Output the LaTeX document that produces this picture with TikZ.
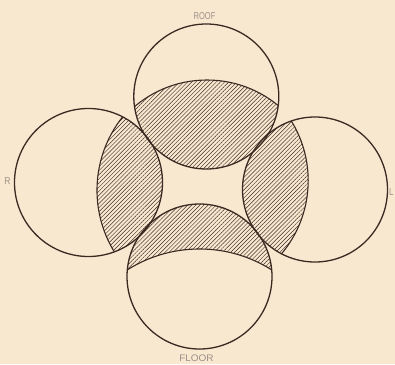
\documentclass[tikz,border=0pt]{standalone}
\usepackage{fontspec}
\newfontfamily\labfont{Liberation Sans}
\usetikzlibrary{patterns.meta}
\definecolor{bg}{HTML}{F9E8D0}
\definecolor{ink}{HTML}{3A2A22}
\definecolor{labcol}{HTML}{9A9088}
\tikzset{
  ring/.style={draw=ink, line width=1.3pt},
  inner/.style={draw=ink, line width=1.1pt},
  hatch/.style={pattern={Lines[angle=45,distance=2.9pt,line width=0.45pt]}, pattern color=ink},
  lab/.style={text=labcol, inner sep=0pt, font=\labfont\fontsize{10}{10}\selectfont}
}
\begin{document}
\begin{tikzpicture}[x=1pt,y=-1pt]
\fill[bg] (0,0) rectangle (395,364);
\useasboundingbox (0,0) rectangle (395,364);
% circle centres
\coordinate (T) at (206.3,96.5);
\coordinate (Lc) at (88.5,182.5);
\coordinate (Rc) at (315,189.5);
\coordinate (B) at (199.5,276.5);
% inner arc centres
\coordinate (cT) at (207,192);
\coordinate (cL) at (215,190.3);
\coordinate (cR) at (194.5,180.6);
\coordinate (cB) at (199.5,384);
% bottom crescent
\begin{scope}
  \clip (B) circle[radius=72.5];
  \fill[hatch, even odd rule] (B) circle[radius=72.5] (cB) circle[radius=135];
  \draw[inner] (cB) circle[radius=135];
\end{scope}
% top
\begin{scope}
  \clip (T) circle[radius=72.5];
  \fill[hatch] (cT) circle[radius=112];
  \draw[inner] (cT) circle[radius=112];
\end{scope}
% left
\begin{scope}
  \clip (Lc) circle[radius=74];
  \fill[hatch] (cL) circle[radius=118];
  \draw[inner] (cL) circle[radius=118];
\end{scope}
% right
\begin{scope}
  \clip (Rc) circle[radius=72.5];
  \fill[hatch] (cR) circle[radius=113.7];
  \draw[inner] (cR) circle[radius=113.7];
\end{scope}
% outlines
\draw[ring] (T) circle[radius=72.5];
\draw[ring] (Lc) circle[radius=74];
\draw[ring] (Rc) circle[radius=72.5];
\draw[ring] (B) circle[radius=72.5];
% labels
\node[lab, xscale=0.75] (roof) at (204.5,16) {ROOF};
\node[lab, xscale=0.85] (rlab) at (7.4,181.5) {R};
\node[lab, anchor=west, xscale=0.8] (llab) at (389,192.5) {L};
\node[lab, xscale=1.05, font=\labfont\fontsize{9.5}{9.5}\selectfont] (floor) at (196.5,358) {FLOOR};
\end{tikzpicture}
\end{document}
